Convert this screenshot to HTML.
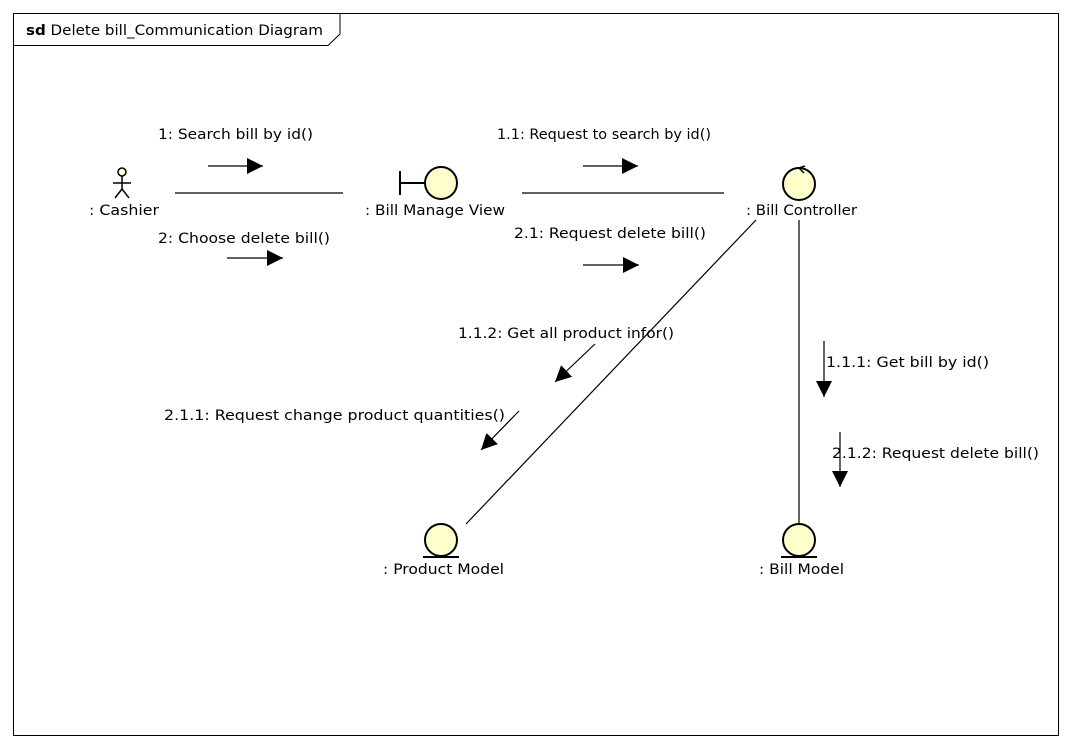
<!DOCTYPE html>
<html><head><meta charset="utf-8"><style>
html,body{margin:0;padding:0;background:#fff;}
svg{display:block;}
text{font-family:"DejaVu Sans","Liberation Sans",sans-serif;font-size:14px;fill:#000;}
</style></head><body>
<svg width="1072" height="748" viewBox="0 0 1072 748" xmlns="http://www.w3.org/2000/svg">
<defs>
<marker id="a" viewBox="0 0 10 10" refX="10" refY="5" markerWidth="16" markerHeight="16" markerUnits="userSpaceOnUse" orient="auto">
<path d="M0,0 L10,5 L0,10 z" fill="#000"/>
</marker>
</defs>
<rect x="13.5" y="13.5" width="1045" height="722" fill="#fff" stroke="#000" stroke-width="1"/>
<path d="M13.5,45.5 H328 L340,34 V13.5" fill="none" stroke="#000"/>
<text x="26" y="35" textLength="297" lengthAdjust="spacingAndGlyphs"><tspan font-weight="bold">sd</tspan> Delete bill_Communication Diagram</text>

<g stroke="#000" stroke-width="1.2" fill="none">
<line x1="175" y1="193" x2="343" y2="193"/>
<line x1="522" y1="193" x2="724" y2="193"/>
<line x1="756" y1="220" x2="466" y2="524"/>
<line x1="799" y1="220" x2="799" y2="524"/>
<line x1="208" y1="166" x2="263" y2="166" marker-end="url(#a)"/>
<line x1="227" y1="258" x2="283" y2="258" marker-end="url(#a)"/>
<line x1="583" y1="166" x2="638" y2="166" marker-end="url(#a)"/>
<line x1="583" y1="265" x2="639" y2="265" marker-end="url(#a)"/>
<line x1="595" y1="344" x2="555" y2="382" marker-end="url(#a)"/>
<line x1="519" y1="411" x2="481" y2="450" marker-end="url(#a)"/>
<line x1="824" y1="341" x2="824" y2="397" marker-end="url(#a)"/>
<line x1="840" y1="432" x2="840" y2="487" marker-end="url(#a)"/>
</g>

<g stroke="#000" stroke-width="1.5" fill="none">
<circle cx="122" cy="172" r="4" fill="#ffffcc"/>
<line x1="122" y1="176" x2="122" y2="189"/>
<line x1="113" y1="183" x2="131" y2="183"/>
<line x1="122" y1="189" x2="115" y2="198"/>
<line x1="122" y1="189" x2="129" y2="198"/>
</g>
<g stroke="#000" stroke-width="2">
<line x1="400" y1="171" x2="400" y2="195"/>
<line x1="400" y1="183" x2="425" y2="183"/>
<circle cx="441" cy="183" r="16" fill="#ffffcc"/>
</g>
<g stroke="#000" stroke-width="2">
<circle cx="799" cy="184" r="16" fill="#ffffcc"/>
<path d="M805,166 L799,168 L804,173" fill="none" stroke-width="1.5"/>
</g>
<g stroke="#000" stroke-width="2">
<circle cx="441" cy="540" r="16" fill="#ffffcc"/>
<line x1="423" y1="557" x2="459" y2="557"/>
<circle cx="799" cy="540" r="16" fill="#ffffcc"/>
<line x1="781" y1="557" x2="817" y2="557"/>
</g>

<text x="89" y="215" textLength="70" lengthAdjust="spacingAndGlyphs">: Cashier</text>
<text x="365" y="215" textLength="140" lengthAdjust="spacingAndGlyphs">: Bill Manage View</text>
<text x="746" y="215" textLength="111" lengthAdjust="spacingAndGlyphs">: Bill Controller</text>
<text x="383" y="574" textLength="121" lengthAdjust="spacingAndGlyphs">: Product Model</text>
<text x="759" y="574" textLength="85" lengthAdjust="spacingAndGlyphs">: Bill Model</text>

<text x="158" y="139" textLength="155" lengthAdjust="spacingAndGlyphs">1: Search bill by id()</text>
<text x="158" y="243" textLength="172" lengthAdjust="spacingAndGlyphs">2: Choose delete bill()</text>
<text x="497" y="139" textLength="214" lengthAdjust="spacingAndGlyphs">1.1: Request to search by id()</text>
<text x="514" y="238" textLength="192" lengthAdjust="spacingAndGlyphs">2.1: Request delete bill()</text>
<text x="458" y="338" textLength="216" lengthAdjust="spacingAndGlyphs">1.1.2: Get all product infor()</text>
<text x="164" y="420" textLength="341" lengthAdjust="spacingAndGlyphs">2.1.1: Request change product quantities()</text>
<text x="826" y="367" textLength="163" lengthAdjust="spacingAndGlyphs">1.1.1: Get bill by id()</text>
<text x="832" y="458" textLength="207" lengthAdjust="spacingAndGlyphs">2.1.2: Request delete bill()</text>
</svg>
</body></html>
